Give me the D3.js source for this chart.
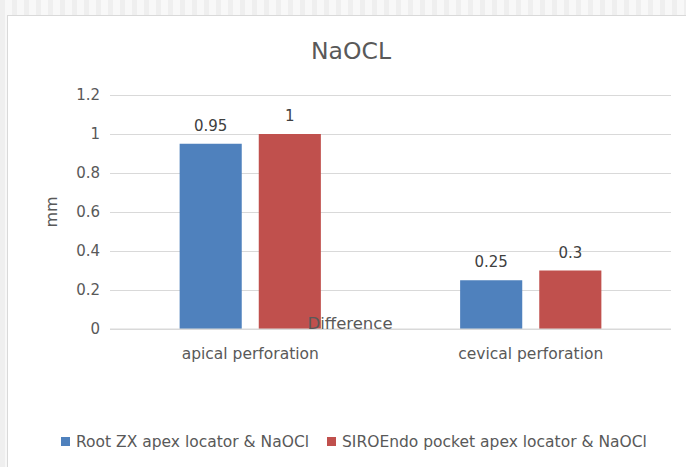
<!DOCTYPE html>
<html>
<head>
<meta charset="utf-8">
<script src="https://cdn.jsdelivr.net/npm/d3@7"></script>
<style>
  body { margin: 0; background: #f6f6f6; }
  svg { display: block; font-family: "DejaVu Sans", sans-serif; }
</style>
</head>
<body>
<svg id="chart" width="686" height="467"></svg>
<script>
const categories = ['apical perforation', 'cevical perforation'];
const seriesNames = ['Root ZX apex locator & NaOCl', 'SIROEndo pocket apex locator & NaOCl'];
const rootZX = [0.95, 0.25];
const siroEndo = [1, 0.3];
const yTicks = [0, 0.2, 0.4, 0.6, 0.8, 1, 1.2];

const colors = ['#4f81bd', '#c0504d'];
const width = 686;
const height = 467;
const margin = { left: 110, right: 15, top: 95, bottom: 138 };

const data = categories.map((c, i) => ({ category: c, values: [rootZX[i], siroEndo[i]] }));

const svg = d3.select('#chart');

// background stripes outside the chart frame
const defs = svg.append('defs');
const pat = defs.append('pattern')
  .attr('id', 'stripes')
  .attr('width', 12)
  .attr('height', 12)
  .attr('patternUnits', 'userSpaceOnUse');
pat.append('rect').attr('width', 12).attr('height', 12).attr('fill', '#f8f8f8');
pat.append('rect').attr('width', 5).attr('height', 12).attr('fill', '#efefef');
svg.append('rect').attr('width', width).attr('height', height).attr('fill', 'url(#stripes)');

svg.append('rect')
  .attr('x', 7.5)
  .attr('y', 15.5)
  .attr('width', width)
  .attr('height', height)
  .attr('fill', '#fff')
  .attr('stroke', '#d9d9d9');

const x0 = d3.scaleBand()
  .domain(categories)
  .range([margin.left, width - margin.right]);
const x1 = d3.scaleBand()
  .domain(d3.range(seriesNames.length))
  .range([0, x0.bandwidth()])
  .paddingInner(0.215)
  .paddingOuter(0.88);
const y = d3.scaleLinear()
  .domain([0, 1.2])
  .range([height - margin.bottom, margin.top]);

// gridlines and value ticks
svg.append('g')
  .attr('transform', `translate(${margin.left},0)`)
  .call(d3.axisLeft(y).tickValues(yTicks).tickSize(-(width - margin.left - margin.right)).tickFormat(d => d3.format('')(d)).tickPadding(10))
  .attr('font-family', null)
  .attr('font-size', null)
  .call(g => g.select('.domain').remove())
  .call(g => g.selectAll('.tick line').attr('stroke', '#d9d9d9'))
  .call(g => g.selectAll('.tick text').attr('fill', '#595959').style('font-size', '15px'));

// bars
const groups = svg.append('g')
  .selectAll('g')
  .data(data)
  .join('g')
  .attr('transform', d => `translate(${x0(d.category)},0)`);

groups.selectAll('rect')
  .data(d => d.values)
  .join('rect')
  .attr('x', (_d, i) => x1(i))
  .attr('y', d => y(d))
  .attr('width', x1.bandwidth())
  .attr('height', d => y(0) - y(d))
  .attr('fill', (_d, i) => colors[i]);

groups.selectAll('text')
  .data(d => d.values)
  .join('text')
  .attr('x', (_d, i) => x1(i) + x1.bandwidth() / 2)
  .attr('y', d => y(d) - 13)
  .attr('text-anchor', 'middle')
  .attr('fill', '#404040')
  .style('font-size', '15px')
  .text(d => d);

// baseline
svg.append('line')
  .attr('x1', margin.left)
  .attr('x2', width - margin.right)
  .attr('y1', y(0))
  .attr('y2', y(0))
  .attr('stroke', '#d9d9d9');

// category axis
svg.append('g')
  .attr('transform', `translate(0,${y(0)})`)
  .call(d3.axisBottom(x0).tickSize(0).tickPadding(19))
  .attr('font-family', null)
  .attr('font-size', null)
  .call(g => g.select('.domain').remove())
  .call(g => g.selectAll('.tick text').attr('fill', '#595959').style('font-size', '15.5px'));

// axis titles
svg.append('text')
  .attr('x', 350)
  .attr('y', 329)
  .attr('text-anchor', 'middle')
  .attr('fill', '#595959')
  .style('font-size', '16.5px')
  .text('Difference');

svg.append('text')
  .attr('transform', `translate(57,${(y(0) + y(1.2)) / 2}) rotate(-90)`)
  .attr('text-anchor', 'middle')
  .attr('fill', '#595959')
  .style('font-size', '16px')
  .text('mm');

// title
svg.append('text')
  .attr('x', 351)
  .attr('y', 59)
  .attr('text-anchor', 'middle')
  .attr('fill', '#595959')
  .style('font-size', '23.5px')
  .text('NaOCL');

// legend
const legendX = [61, 327];
const legend = svg.append('g')
  .selectAll('g')
  .data(seriesNames)
  .join('g')
  .attr('transform', (_d, i) => `translate(${legendX[i]},437)`);
legend.append('rect')
  .attr('width', 9)
  .attr('height', 9)
  .attr('fill', (_d, i) => colors[i]);
legend.append('text')
  .attr('x', 15)
  .attr('y', 10)
  .attr('fill', '#595959')
  .style('font-size', '15.5px')
  .text(d => d);
</script>
</body>
</html>
